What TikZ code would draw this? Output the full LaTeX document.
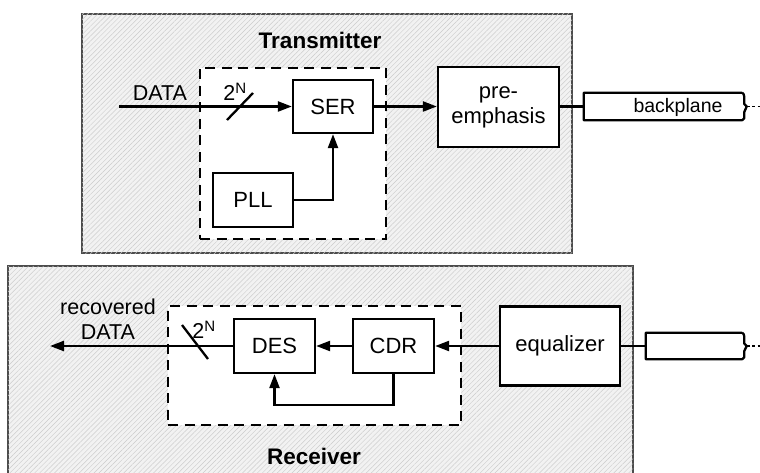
\documentclass[tikz,border=0pt]{standalone}
\usepackage{fontspec}
\setmainfont{Liberation Sans}
\usetikzlibrary{patterns.meta,arrows.meta}
\begin{document}
\begin{tikzpicture}[x=1pt,y=-1pt,
  outer/.style={draw=black!70, line width=1.5pt, fill=black!5, inner sep=0pt,
    postaction={pattern={Lines[angle=45,distance=3.5pt,line width=0.45pt]}, pattern color=black!20}},
  dashbox/.style={draw, line width=2.3pt, dash pattern=on 10pt off 6.5pt, fill=white, inner sep=0pt},
  blk/.style={draw, line width=2.3pt, fill=white, inner sep=0pt, font=\fontsize{22}{25}\selectfont, align=center},
  lbl/.style={font=\fontsize{21.5}{25}\selectfont, align=center, inner sep=0pt},
  small/.style={font=\fontsize{19.5}{22}\selectfont, inner sep=0pt},
  ttl/.style={font=\fontsize{22.5}{26}\selectfont\bfseries, inner sep=0pt},
  wire/.style={line width=2.3pt},
  arr/.style={wire, -{Triangle[length=14pt,width=10pt]}},
  dots/.style={line width=1.8pt, dash pattern=on 3pt off 2.5pt},
]
\useasboundingbox (0,0) rectangle (760,473);

% ---------- Transmitter ----------
\node[outer, minimum width=490pt, minimum height=239pt] (txbox) at (327,133.5) {};
\node[ttl] (txtitle) at (320,40) {Transmitter};
\node[dashbox, minimum width=186pt, minimum height=171pt] (txdash) at (293,153.5) {};
\node[blk, minimum width=80pt, minimum height=53pt] (ser) at (333,106.5) {SER};
\node[blk, minimum width=80pt, minimum height=54pt] (pll) at (253,200) {PLL};
\node[blk, minimum width=121pt, minimum height=80pt] (pre) at (498.5,107) {pre-\\emphasis};
\node[minimum width=158pt, minimum height=27pt, inner sep=0pt] (bptx) at (663,106.5) {};
\node[small] (bptxt) at (678,107) {backplane};
\draw[wire, line join=round] (bptx.north east) -- (bptx.north west) -- (bptx.south west) -- (bptx.south east)
  .. controls +(2.5,-1) and +(0,3) .. ++(2,-5) -- ++(0,-3) -- ([xshift=4.5pt]bptx.east) coordinate (bptxtip)
  -- ++(-2.5,-2.5) -- ++(0,-3) .. controls +(0,-3) and +(2.5,1) .. (bptx.north east);
\coordinate (bptxend) at (760,106.5);
\draw[dots] (bptxtip) -- (bptxend);

\coordinate (datain) at (119,106.5);
\node[lbl] (datalbl) at (160,93.5) {DATA};
\node[lbl] (txn) at (235,92) {2\textsuperscript{N}};
\draw[arr] (datain) -- (ser.west);
\draw[wire] (227,120) -- (253,93);
\draw[arr] (pll.east) -| (ser.south);
\draw[arr] (ser.east) -- (ser.east -| pre.west);
\draw[wire] (pre.east |- bptx.west) -- (bptx.west);

% ---------- Receiver ----------
\node[outer, minimum width=625pt, minimum height=216pt] (rxbox) at (320.5,374) {};
\node[ttl] (rxtitle) at (314,456) {Receiver};
\node[dashbox, minimum width=293pt, minimum height=119pt] (rxdash) at (314.5,365.5) {};
\node[blk, minimum width=81pt, minimum height=54pt] (des) at (274.5,346) {DES};
\node[blk, minimum width=81pt, minimum height=54pt] (cdr) at (393.5,346) {CDR};
\node[blk, minimum width=120pt, minimum height=79pt] (eq) at (560,346) {equalizer};
\node[minimum width=96pt, minimum height=26pt, inner sep=0pt] (bprx) at (694,346) {};
\draw[wire, line join=round] (bprx.north east) -- (bprx.north west) -- (bprx.south west) -- (bprx.south east)
  .. controls +(2.5,-1) and +(0,3) .. ++(2,-5) -- ++(0,-3) -- ([xshift=4.5pt]bprx.east) coordinate (bprxtip)
  -- ++(-2.5,-2.5) -- ++(0,-3) .. controls +(0,-3) and +(2.5,1) .. (bprx.north east);
\coordinate (bprxend) at (760,346);
\draw[dots] (bprxtip) -- (bprxend);

\coordinate (dataout) at (50,346);
\node[lbl] (reclbl) at (108,319) {recovered\\DATA};
\node[lbl] (rxn) at (204,330) {2\textsuperscript{N}};
\draw[arr] (eq.west) -- (cdr.east);
\draw[arr] (cdr.west) -- (des.east);
\draw[arr] (des.west) -- (dataout);
\draw[wire] (182,325) -- (208,359);
\draw[arr] (cdr.south) -- ++(0,31) -| (des.south);
\draw[wire] (eq.east) -- (bprx.west);
\end{tikzpicture}
\end{document}
